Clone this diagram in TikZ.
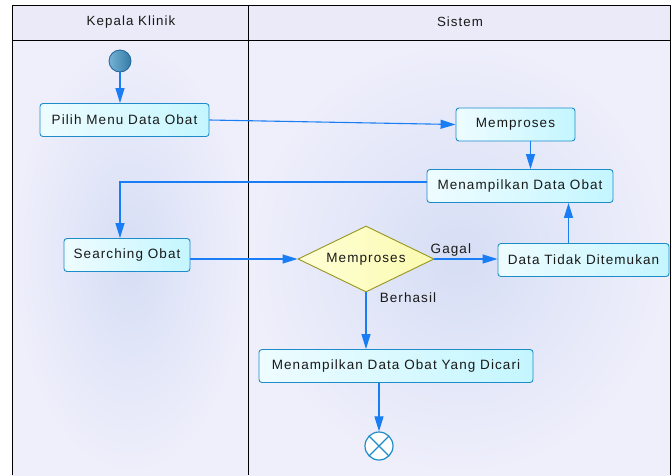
\documentclass[tikz,border=0pt]{standalone}
\usepackage{fontspec}
\newfontfamily\lblfont{Liberation Sans}[LetterSpace=8]
\usetikzlibrary{shapes.geometric,arrows.meta}
\definecolor{lanebg}{RGB}{239,239,251}
\definecolor{laneglow}{RGB}{214,222,245}
\definecolor{headbg}{RGB}{234,234,248}
\definecolor{actborder}{RGB}{30,140,200}
\definecolor{actleft}{RGB}{238,252,255}
\definecolor{actright}{RGB}{196,246,255}
\definecolor{flow}{RGB}{25,125,245}
\definecolor{decborder}{RGB}{150,150,30}
\definecolor{decleft}{RGB}{255,255,215}
\definecolor{decright}{RGB}{250,250,175}
\definecolor{startfill}{RGB}{60,145,195}
\definecolor{startborder}{RGB}{30,100,150}
\tikzset{
  txt/.style={font=\lblfont\fontsize{13.5}{15}\selectfont, text=black!90},
  activity/.style={txt, draw=actborder, line width=0.9pt, rounded corners=3pt,
    left color=actleft, right color=actright, minimum height=33pt, inner sep=2pt},
  decision/.style={txt, diamond, aspect=2.06, draw=decborder, line width=0.9pt,
    left color=decleft, right color=decright, minimum width=136pt, minimum height=66pt, inner sep=0pt},
  flowline/.style={draw=flow, line width=1.1pt, -{Triangle[length=15pt,width=9pt]}},
  guard/.style={txt, inner sep=1pt},
  headtxt/.style={font=\lblfont\fontsize{13.3}{15}\selectfont, text=black!90},
}
\begin{document}
\begin{tikzpicture}[x=1pt,y=-1pt]
\useasboundingbox (0,0) rectangle (671,475);
% swimlane backgrounds
\fill[white] (0,0) rectangle (671,475);
\fill[headbg] (12,5) rectangle (670.5,40);
\shade[inner color=laneglow, outer color=lanebg] (12,40) rectangle (248,475);
\shade[inner color=laneglow, outer color=lanebg] (248,40) rectangle (670.5,475);
% swimlane frame
\draw[black, line width=0.9pt] (12,475) -- (12,5) -- (670.5,5) -- (670.5,475);
\draw[black, line width=0.9pt] (12,40) -- (670.5,40);
\draw[black, line width=0.9pt] (248,5) -- (248,475);
\node[headtxt] (laneA) at (131,22) {Kepala Klinik};
\node[headtxt] (laneB) at (460,22) {Sistem};

% nodes
\node[circle, draw=startborder, line width=0.8pt, left color=startfill!70!white, right color=startfill!85!black,
      minimum size=22pt, inner sep=0pt] (start) at (120,61) {};
\node[activity, minimum width=169pt] (pilih) at (124.5,120) {Pilih Menu Data Obat};
\node[activity, minimum width=119pt] (proses) at (515.5,124.5) {Memproses};
\node[activity, minimum width=186pt] (tampil) at (520,186) {Menampilkan Data Obat};
\node[activity, minimum width=126pt] (cari) at (127,255) {Searching Obat};
\node[decision] (cek) at (366,259) {Memproses};
\node[activity, minimum width=171pt] (gagal) at (583.5,260) {Data Tidak Ditemukan};
\node[activity, minimum width=274pt] (hasil) at (396,366) {Menampilkan Data Obat Yang Dicari};
\node[circle, draw=actborder, line width=1.2pt, fill=white, minimum size=28pt, inner sep=0pt,
      path picture={\draw[actborder, line width=1.2pt]
        (path picture bounding box.north west) -- (path picture bounding box.south east)
        (path picture bounding box.south west) -- (path picture bounding box.north east);}]
      (akhir) at (379,446) {};

% flows
\draw[flowline] (start) -- (start |- pilih.north);
\draw[flowline] (pilih.east) -- (proses.west);
\draw[flowline] ([xshift=15pt]proses.south) -- ([xshift=15pt]proses.south |- tampil.north);
\draw[flowline] ([yshift=4pt]tampil.west) -| ([xshift=-7pt]cari.north);
\draw[flowline] (cek.west -| cari.east) -- (cek.west);
\draw[flowline] (cek.east) -- (cek.east -| gagal.west) node[guard, pos=0.26, above=1pt] (lblGagal) {Gagal};
\draw[flowline] ([xshift=-15pt]gagal.north) -- ([xshift=-15pt]gagal.north |- tampil.south);
\draw[flowline] (cek.south) -- (cek.south |- hasil.north);
\node[guard] (lblBerhasil) at (408,298) {Berhasil};
\draw[flowline] (hasil.south -| akhir) -- (akhir.north);
\end{tikzpicture}
\end{document}
